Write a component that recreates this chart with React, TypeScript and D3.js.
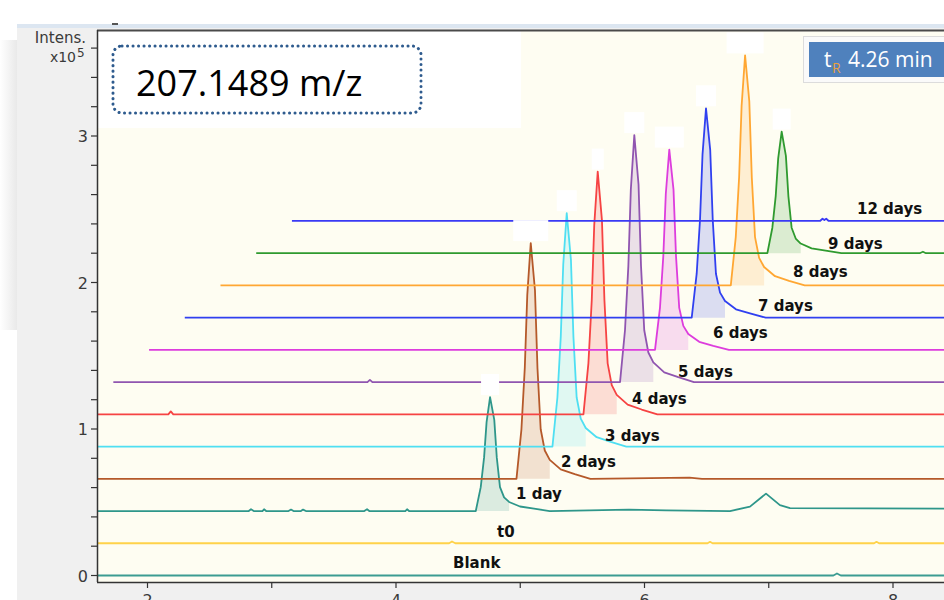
import React from "react";
import * as d3 from "d3";

// chromatogram traces, bottom to top
const SERIES = ["Blank", "t0", "1 day", "2 days", "3 days", "4 days", "5 days", "6 days", "7 days", "8 days", "9 days", "12 days"];
const COLORS = ["#3c9c92", "#ffd24a", "#2e968a", "#b5592a", "#4fdff2", "#f64343", "#9055b0", "#dd3ddd", "#3040f0", "#ffa733", "#2f9a2f", "#3a3af5"];

// [time (min), intensity x10^5 above the trace's own baseline]
const BLANK = [[0, 0], [7.52, 0], [7.549, 0.014], [7.58, 0], [8.6, 0]];
const T0 = [[0, 0], [4.14, 0], [4.163, 0.012], [4.19, 0], [6.22, 0], [6.24, 0.01], [6.26, 0], [7.56, 0], [7.58, 0.01], [7.6, 0], [8.6, 0]];
const DAY1 = [[0, 0], [2.24, 0], [2.258, 0.012], [2.28, 0], [2.35, 0], [2.363, 0.012], [2.38, 0], [2.56, 0], [2.58, 0.01], [2.6, 0], [2.66, 0], [2.677, 0.01], [2.7, 0], [3.17, 0], [3.192, 0.012], [3.21, 0], [3.5, 0], [3.514, 0.012], [3.53, 0],
  [4.067, 0], [4.107, 0.163], [4.134, 0.366], [4.154, 0.607], [4.182, 0.778], [4.216, 0.622], [4.236, 0.366], [4.262, 0.163], [4.295, 0.093], [4.335, 0.062], [4.423, 0.031], [4.536, 0.016], [4.662, 0],
  [5.3, 0.01], [5.6, 0.004], [6.113, 0], [6.274, 0.03], [6.403, 0.119], [6.515, 0.04], [6.596, 0.02], [8.6, 0.015]];
const DAY2 = [[0, 0], [4.107, 0], [4.147, 0.338], [4.174, 0.756], [4.194, 1.255], [4.222, 1.609], [4.256, 1.287], [4.276, 0.756], [4.302, 0.338], [4.335, 0.193], [4.375, 0.129], [4.463, 0.064], [4.576, 0.032], [4.702, 0], [5.5, 0.008], [5.6, 0], [8.6, 0]];
const DAY3 = [[0, 0], [4.109, 0], [4.149, 0.335], [4.176, 0.749], [4.196, 1.243], [4.224, 1.593], [4.258, 1.274], [4.278, 0.749], [4.304, 0.335], [4.337, 0.191], [4.377, 0.127], [4.465, 0.064], [4.578, 0.032], [4.704, 0], [8.6, 0]];
const DAY4 = [[0, 0], [0.73, 0], [0.75, 0.02], [0.77, 0], [4.071, 0], [4.111, 0.348], [4.138, 0.779], [4.158, 1.292], [4.186, 1.657], [4.22, 1.326], [4.24, 0.779], [4.266, 0.348], [4.299, 0.199], [4.339, 0.133], [4.427, 0.066], [4.54, 0.033], [4.666, 0], [8.6, 0]];
const DAY5 = [[0, 0], [2.045, 0], [2.065, 0.015], [2.085, 0], [4.078, 0], [4.118, 0.354], [4.145, 0.792], [4.165, 1.315], [4.193, 1.686], [4.227, 1.349], [4.247, 0.792], [4.273, 0.354], [4.306, 0.202], [4.346, 0.135], [4.434, 0.067], [4.547, 0.034], [4.673, 0], [8.6, 0]];
const DAY6 = [[0, 0], [4.072, 0], [4.112, 0.287], [4.139, 0.642], [4.159, 1.066], [4.187, 1.367], [4.221, 1.094], [4.241, 0.642], [4.267, 0.287], [4.3, 0.164], [4.34, 0.109], [4.428, 0.055], [4.541, 0.027], [4.667, 0], [8.6, 0]];
const DAY7 = [[0, 0], [4.08, 0], [4.12, 0.3], [4.147, 0.672], [4.167, 1.115], [4.195, 1.429], [4.229, 1.143], [4.249, 0.672], [4.275, 0.3], [4.308, 0.171], [4.348, 0.114], [4.436, 0.057], [4.549, 0.029], [4.675, 0], [8.6, 0]];
const DAY8 = [[0, 0], [4.107, 0], [4.147, 0.33], [4.174, 0.738], [4.194, 1.225], [4.222, 1.57], [4.256, 1.256], [4.276, 0.738], [4.302, 0.33], [4.335, 0.188], [4.375, 0.126], [4.463, 0.063], [4.576, 0.031], [4.702, 0], [8.6, 0]];
const DAY9 = [[0, 0], [4.114, 0], [4.154, 0.174], [4.181, 0.39], [4.201, 0.647], [4.229, 0.83], [4.263, 0.664], [4.283, 0.39], [4.309, 0.174], [4.342, 0.1], [4.382, 0.066], [4.47, 0.033], [4.583, 0.017], [4.709, 0], [5.34, 0], [5.366, 0.01], [5.39, 0], [8.6, 0]];
const DAY12 = [[0, 0], [4.25, 0], [4.27, 0.015], [4.285, 0.006], [4.3, 0.015], [4.32, 0], [8.6, 0]];
const TRACES = [BLANK, T0, DAY1, DAY2, DAY3, DAY4, DAY5, DAY6, DAY7, DAY8, DAY9, DAY12];

const X_TICKS = [2, 3, 4, 5, 6, 7, 8];
const X_LABELS = [2, 4, 6, 8];
const Y_LABELS = [0, 1, 2, 3];

// waterfall offset per trace
const STEP_X = 0.2875;
const STEP_Y = 0.22;
// label anchor [time, height above baseline] and the blanked apex boxes
const LABEL_AT = [[4.459, 0.051], [4.526, 0.046], [4.391, 0.08], [4.466, 0.08], [4.532, 0.039], [4.462, 0.073], [4.545, 0.034], [4.539, 0.078], [4.614, 0.046], [4.608, 0.055], [4.602, 0.029], [4.548, 0.046]];
const BOX_W = [0, 0, 18, 35, 20, 12, 20, 29, 20, 37, 18, 0];

export default function App() {
  const W = 944, H = 600;
  const L = 97, R = 944, T = 30, B = 582;

  const x = d3.scaleLinear().domain([2, 8]).range([147.5, 893]);
  const y = d3.scaleLinear().domain([0, 3]).range([575.5, 136]);
  const yMinor = d3.range(0, 3.61, 0.2);

  return (
    <svg width={W} height={H} style={{ position: "absolute", left: 0, top: 0, background: "#fff" }}>
      <defs>
        <clipPath id="plot">
          <rect x={L + 1} y={T + 1} width={R - L - 1} height={B - T - 1} />
        </clipPath>
        <linearGradient id="shade" x1="0" x2="1" y1="0" y2="0">
          <stop offset="0" stopColor="#ffffff" />
          <stop offset="1" stopColor="#e9e9e9" />
        </linearGradient>
      </defs>

      <rect x={0} y={40} width={17} height={290} fill="url(#shade)" />
      <rect x={17} y={27} width={W - 17} height={H - 27} fill="#f0f0f0" />
      <rect x={17} y={24} width={W - 17} height={4} fill="#dce6f1" />
      <rect x={112} y={23} width={6} height={2} fill="#555" />
      <rect x={L} y={T} width={R - L} height={B - T} fill="#fefdf2" />
      <rect x={L + 1} y={T + 1} width={423} height={97} fill="#ffffff" />

      <g clipPath="url(#plot)">
        {TRACES.map((pts, i) => {
          const base = i * STEP_Y;
          const dx = i * STEP_X;
          const line = d3.line().x(d => x(d[0] + dx)).y(d => y(d[1] + base));
          const apex = d3.greatest(pts, d => d[1]);
          const peak = apex[1] > 0.3 ? pts.filter(d => d[0] >= apex[0] - 0.12 && d[0] <= apex[0] + 0.16) : [];
          const area = d3.area().x(d => x(d[0] + dx)).y0(y(base)).y1(d => y(d[1] + base));
          return (
            <g key={SERIES[i]}>
              {peak.length > 0 && <path d={area(peak)} fill={COLORS[i]} fillOpacity={0.17} />}
              <path d={line(pts)} fill="none" stroke={COLORS[i]} strokeWidth={1.8} strokeLinejoin="round" />
            </g>
          );
        })}
        {TRACES.map((pts, i) => {
          if (!BOX_W[i]) return null;
          const apex = d3.greatest(pts, d => d[1]);
          const cx = x(apex[0] + i * STEP_X);
          const cy = y(apex[1] + i * STEP_Y);
          return <rect key={i} x={cx - BOX_W[i] / 2} y={cy - 23} width={BOX_W[i]} height={21} fill="#ffffff" />;
        })}
        {SERIES.map((s, i) => (
          <text key={s} x={x(LABEL_AT[i][0] + i * STEP_X)} y={y(LABEL_AT[i][1] + i * STEP_Y)}
            fontFamily="DejaVu Sans" fontWeight="bold" fontSize={15} fill="#111">{s}</text>
        ))}
      </g>

      {/* frame */}
      <line x1={L} x2={R} y1={T + 0.5} y2={T + 0.5} stroke="#4a4a4a" strokeWidth={2} />
      <line x1={L + 0.5} x2={L + 0.5} y1={T} y2={B} stroke="#333" strokeWidth={1.5} />
      <line x1={L} x2={R} y1={B + 0.5} y2={B + 0.5} stroke="#333" strokeWidth={1.5} />

      {/* y axis */}
      {yMinor.map(v => (
        <line key={v} x1={91} x2={L} y1={y(v)} y2={y(v)} stroke="#333" strokeWidth={1.2} />
      ))}
      {Y_LABELS.map(v => (
        <text key={v} x={88} y={y(v) + 6} textAnchor="end" fontFamily="DejaVu Sans" fontSize={16} fill="#3a3a3a">{v}</text>
      ))}
      <text x={86} y={43} textAnchor="end" fontFamily="DejaVu Sans" fontSize={15} fill="#3a3a3a">Intens.</text>
      <text x={76} y={62} textAnchor="end" fontFamily="DejaVu Sans" fontSize={14} fill="#3a3a3a">x10</text>
      <text x={77} y={57} fontFamily="DejaVu Sans" fontSize={12} fill="#3a3a3a">5</text>

      {/* x axis */}
      {X_TICKS.map(t => (
        <line key={t} x1={x(t)} x2={x(t)} y1={B} y2={B + 6} stroke="#333" strokeWidth={1.2} />
      ))}
      {X_LABELS.map(t => (
        <text key={t} x={x(t)} y={606} textAnchor="middle" fontFamily="DejaVu Sans" fontSize={16} fill="#3a3a3a">{t}</text>
      ))}

      {/* m/z box */}
      <rect x={113} y={46} width={308} height={67} rx={9} fill="none" stroke="#2e5b8e" strokeWidth={3}
        strokeDasharray="0.1 5.4" strokeLinecap="round" />
      <text x={136} y={96} fontFamily="Open Sans" fontSize={36} fill="#000">207.1489 m/z</text>

      {/* retention time badge */}
      <rect x={803.5} y={36.5} width={150} height={46} fill="#fafafa" stroke="#dcdcdc" />
      <rect x={809} y={42} width={140} height={35} fill="#4f81bd" />
      <text x={824} y={67} fontFamily="Open Sans" fontSize={21} fill="#fff">t</text>
      <text x={832} y={73} fontFamily="Open Sans" fontSize={14} fill="#e8a040">R</text>
      <text x={848} y={67} fontFamily="Open Sans" fontSize={21} fill="#fff">4.26 min</text>
    </svg>
  );
}
